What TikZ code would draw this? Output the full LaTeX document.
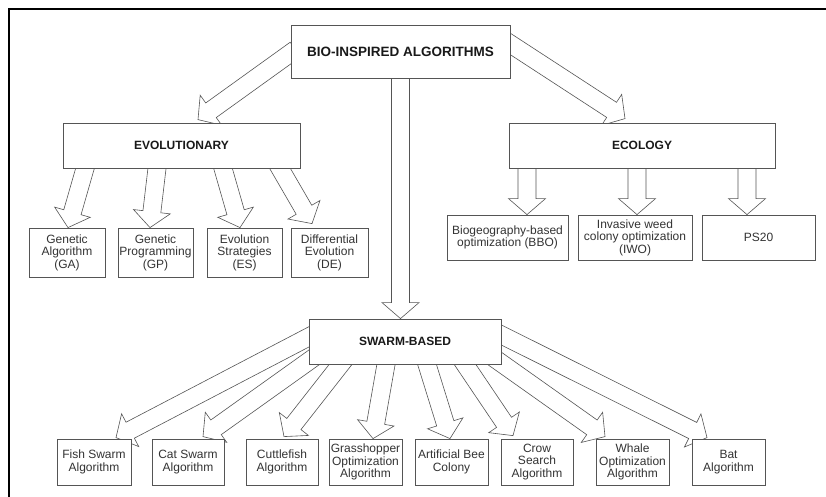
\documentclass[tikz,border=0pt]{standalone}
\usepackage{fontspec}
\setmainfont{Liberation Sans}
\usetikzlibrary{calc,backgrounds}
\definecolor{edge}{HTML}{555555}
\definecolor{txt}{HTML}{333333}
\tikzset{
  box/.style={draw=edge, line width=0.8pt, fill=white, inner sep=0pt, align=center,
    text=txt, font=\fontsize{12}{12.6}\selectfont},
  title/.style={box, text=black!90, font=\fontsize{12}{13}\selectfont\bfseries},
  fat/.style={draw=edge, line width=0.6pt, fill=white, line join=miter},
  frame/.style={line width=2.8pt, black},
}
\newcommand\fatarrow[2]{%
  \coordinate (fa-s) at #1;
  \coordinate (fa-t) at #2;
  \coordinate (fa-a) at ($(fa-s)!-6pt!(fa-t)$);
  \coordinate (fa-h) at ($(fa-t)!16pt!(fa-s)$);
  \draw[fat] ($(fa-a)!9pt!90:(fa-t)$) -- ($(fa-h)!9pt!90:(fa-t)$)
    -- ($(fa-h)!18.5pt!90:(fa-t)$) -- (fa-t) -- ($(fa-h)!18.5pt!-90:(fa-t)$)
    -- ($(fa-h)!9pt!-90:(fa-t)$) -- ($(fa-a)!9pt!-90:(fa-t)$) -- cycle;
}
\begin{document}
\begin{tikzpicture}[x=1pt, y=-1pt]
\useasboundingbox (0,0) rectangle (826,497);
\draw[frame] (826,9) -- (9,9) -- (9,497);

% main nodes
\node[title, minimum width=219pt, minimum height=53pt, font=\fontsize{13.5}{15}\selectfont\bfseries] (bio) at (400.5,51.5) {BIO-INSPIRED ALGORITHMS};
\node[title, minimum width=237pt, minimum height=45pt] (evo) at (181.5,145.5) {EVOLUTIONARY};
\node[title, minimum width=266pt, minimum height=45pt] (eco) at (642,145.5) {ECOLOGY};
\node[title, minimum width=192pt, minimum height=45pt] (swarm) at (405,341.5) {SWARM-BASED};

% evolutionary leaves
\node[box, minimum width=76pt, minimum height=49pt] (ga) at (67,252.5) {Genetic\\Algorithm\\(GA)};
\node[box, minimum width=75pt, minimum height=49pt] (gp) at (155.5,252.5) {Genetic\\Programming\\(GP)};
\node[box, minimum width=75pt, minimum height=49pt] (es) at (244.5,252.5) {Evolution\\Strategies\\(ES)};
\node[box, minimum width=77pt, minimum height=49pt] (de) at (329.5,252.5) {Differential\\Evolution\\(DE)};

% ecology leaves
\node[box, minimum width=121pt, minimum height=45pt] (bbo) at (507.5,237.5) {Biogeography-based\\optimization (BBO)};
\node[box, minimum width=114pt, minimum height=45pt] (iwo) at (635,237.5) {Invasive weed\\colony optimization\\(IWO)};
\node[box, minimum width=113pt, minimum height=45pt] (ps) at (758.5,237.5) {PS20};

% swarm leaves
\node[box, minimum width=74pt, minimum height=46pt] (fish) at (94,462) {Fish Swarm\\Algorithm};
\node[box, minimum width=72pt, minimum height=46pt] (cat) at (188,462) {Cat Swarm\\Algorithm};
\node[box, minimum width=72pt, minimum height=46pt] (cut) at (282,462) {Cuttlefish\\Algorithm};
\node[box, minimum width=73pt, minimum height=46pt] (grass) at (365.5,462) {Grasshopper\\Optimization\\Algorithm};
\node[box, minimum width=73pt, minimum height=46pt] (abc) at (451.5,462) {Artificial Bee\\Colony};
\node[box, minimum width=72pt, minimum height=46pt] (crow) at (537,462) {Crow\\Search\\Algorithm};
\node[box, minimum width=73pt, minimum height=46pt] (whale) at (632.5,462) {Whale\\Optimization\\Algorithm};
\node[box, minimum width=73pt, minimum height=46pt] (bat) at (728.5,462) {Bat\\Algorithm};

\begin{scope}[on background layer]
  \fatarrow{($(bio.west)+(0,1.5)$)}{($(evo.north)+(16.5,-3)$)}
  \fatarrow{($(bio.east)+(0,-7.5)$)}{($(eco.north)+(-17,-4)$)}
  \fatarrow{(bio.south)}{(bio.south |- swarm.north)}

  \fatarrow{($(evo.south)+(-96.5,0)$)}{($(ga.north)+(1,0)$)}
  \fatarrow{($(evo.south)+(-24.5,0)$)}{($(gp.north)+(-5.5,0)$)}
  \fatarrow{($(evo.south)+(41.5,0)$)}{($(es.north)+(-4.5,0)$)}
  \fatarrow{($(evo.south)+(98.5,0)$)}{($(de.north)+(-17.5,-4)$)}

  \fatarrow{($(eco.south)+(-115,0)$)}{($(bbo.north)+(19.5,0)$)}
  \fatarrow{($(eco.south)+(-5,0)$)}{($(iwo.north)+(2,0)$)}
  \fatarrow{($(eco.south)+(105,0)$)}{($(ps.north)+(-11.5,0)$)}

  \fatarrow{($(swarm.west)+(0,-4.5)$)}{($(fish.north)+(22,-1)$)}
  \fatarrow{($(swarm.south west)+(4,-6)$)}{($(cat.north)+(15,-2)$)}
  \fatarrow{($(swarm.south west)+(32,0)$)}{($(cut.north)+(2,-2)$)}
  \fatarrow{($(swarm.south)+(-19,0)$)}{($(grass.north)+(7.5,0)$)}
  \fatarrow{($(swarm.south)+(22,0)$)}{($(abc.north)+(-1.5,0)$)}
  \fatarrow{($(swarm.south)+(60,0)$)}{($(crow.north)+(-24,-3)$)}
  \fatarrow{($(swarm.south east)+(-4,-4)$)}{($(whale.north)+(-27.5,-2)$)}
  \fatarrow{($(swarm.east)+(0,-6.5)$)}{($(bat.north)+(-21.5,-1)$)}
\end{scope}
\end{tikzpicture}
\end{document}
